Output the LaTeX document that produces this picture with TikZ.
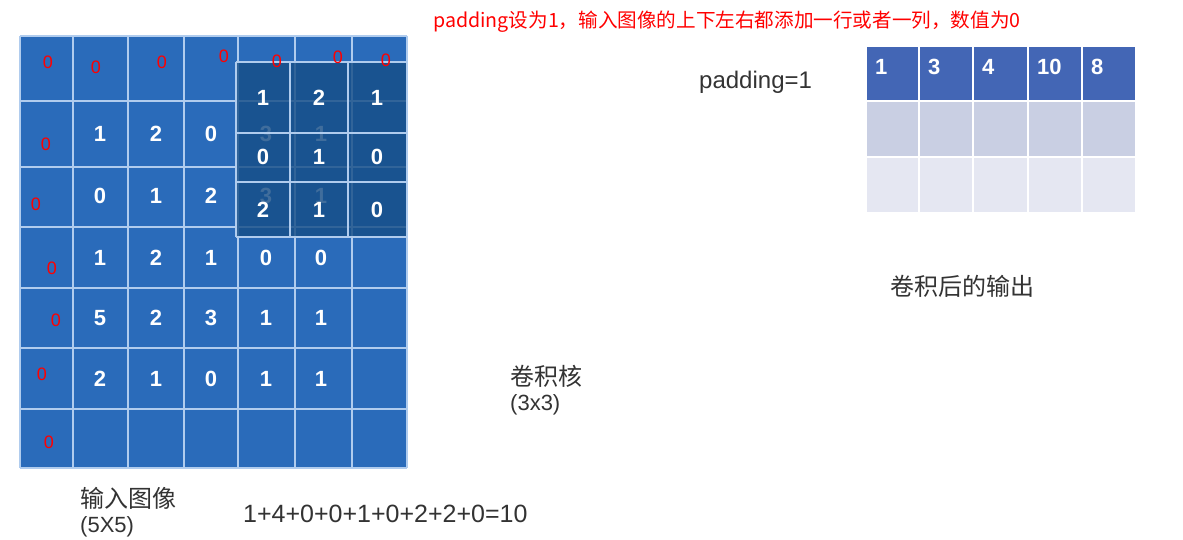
\documentclass[tikz,border=0pt]{standalone}
\usepackage{fontspec}
\setmainfont{Liberation Sans}
\newfontfamily\cjk{Noto Sans CJK SC}
\usetikzlibrary{positioning}
\definecolor{inblue}{RGB}{42,107,186}
\definecolor{kblue}{RGB}{22,78,135}
\definecolor{gline}{RGB}{176,204,238}
\definecolor{outdark}{RGB}{67,102,181}
\definecolor{outmid}{RGB}{201,207,227}
\definecolor{outlight}{RGB}{229,231,242}
\definecolor{txtgray}{RGB}{51,51,51}
\tikzset{
  num/.style  ={font=\fontsize{22}{22}\selectfont\bfseries, text=white, inner sep=0pt},
  onum/.style ={num, anchor=west},
  pad/.style  ={font=\fontsize{18}{18}\selectfont, text=red, inner sep=0pt},
  captxt/.style={font=\cjk\fontsize{24}{28}\selectfont, text=txtgray, inner sep=0pt, anchor=west},
  lat/.style  ={font=\fontsize{22}{26}\selectfont, text=txtgray, inner sep=0pt, anchor=west},
  note/.style ={font=\cjk\fontsize{19.6}{24}\selectfont, text=red, inner sep=0pt, anchor=west},
  gl/.style   ={draw=gline, line width=1.2pt},
  ol/.style   ={draw=white, line width=2pt},
}
\begin{document}
\begin{tikzpicture}[x=1pt, y=-1pt]
  \useasboundingbox[fill=white] (0,0) rectangle (1183,540);

  % padded input image
  \fill[inblue] (20,36) rectangle (407,468);
  \foreach \x in {20,73,128,184,238,295,352,407}
    \draw[gl] (\x,36) -- (\x,468);
  \foreach \y in {36,101,167,227,288,348,409,468}
    \draw[gl] (20,\y) -- (407,\y);
  \foreach \a/\b/\c/\d/\e/\y [count=\r] in {1/2/0/3/1/134, 0/1/2/3/1/196, 1/2/1/0/0/258,
                                         5/2/3/1/1/318, 2/1/0/1/1/379} {
    \node[num] (in-\r-1) at (100,\y) {\a};
    \node[num] (in-\r-2) at (156,\y) {\b};
    \node[num] (in-\r-3) at (211,\y) {\c};
    \node[num] (in-\r-4) at (266,\y) {\d};
    \node[num] (in-\r-5) at (321,\y) {\e};
  }

  % kernel 3x3
  \fill[kblue, fill opacity=0.82] (236,62) rectangle (407,237);
  \foreach \x in {236,290,348,407}
    \draw[gl] (\x,62) -- (\x,237);
  \foreach \y in {62,133,182,237}
    \draw[gl] (236,\y) -- (407,\y);
  \foreach \a/\b/\c/\y [count=\r] in {1/2/1/98, 0/1/0/157, 2/1/0/210} {
    \node[num] (k-\r-1) at (263,\y) {\a};
    \node[num] (k-\r-2) at (319,\y) {\b};
    \node[num] (k-\r-3) at (377,\y) {\c};
  }

  % padding zeros
  \foreach \x/\y [count=\i] in {48/62, 96/67, 162/62, 224/56, 277/61, 338/57, 386/60,
                               46/144, 36/204, 52/268, 56/320, 42/374, 49/442}
    \node[pad] (z\i) at (\x,\y) {0};

  % output
  \fill[outdark]  (867,47)  rectangle (1135,101);
  \fill[outmid]   (867,101) rectangle (1135,157);
  \fill[outlight] (867,157) rectangle (1135,212);
  \foreach \x in {919,973,1028,1082}
    \draw[ol] (\x,47) -- (\x,212);
  \foreach \y in {101,157}
    \draw[ol] (867,\y) -- (1135,\y);
  \foreach \v/\x [count=\i] in {1/875, 3/928, 4/982, 10/1037, 8/1091}
    \node[onum] (o\i) at (\x,67) {\v};

  % labels
  \node[note] (title) at (433,22) {padding设为1，输入图像的上下左右都添加一行或者一列，数值为0};
  \node[lat, font=\fontsize{24}{28}\selectfont] (padlbl) at (699,82) {padding=1};
  \node[captxt] (outlbl) at (890,286) {卷积后的输出};
  \node[captxt] (klbl) at (510,376) {卷积核};
  \node[lat] (kdim) at (510,405) {(3x3)};
  \node[captxt] (inlbl) at (80,498) {输入图像};
  \node[lat] (indim) at (80,527) {(5X5)};
  \node[lat, font=\fontsize{25}{29}\selectfont] (sum) at (243,514) {1+4+0+0+1+0+2+2+0=10};
\end{tikzpicture}
\end{document}
